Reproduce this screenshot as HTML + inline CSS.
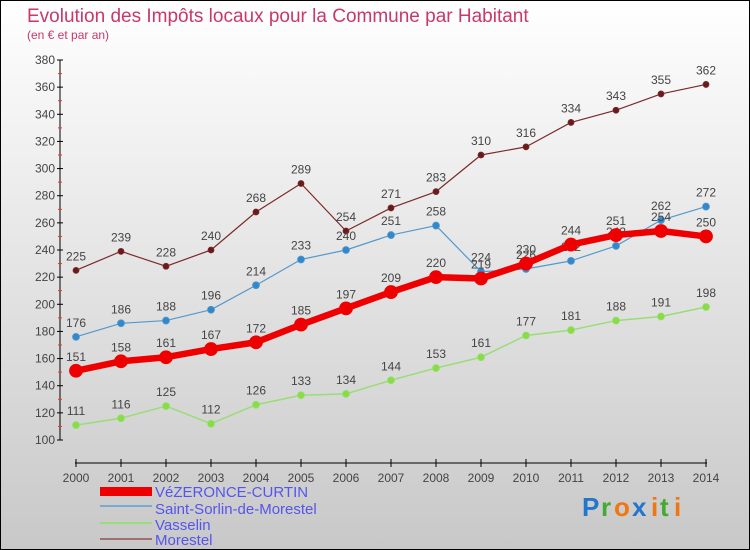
<!DOCTYPE html>
<html><head><meta charset="utf-8"><style>
body{margin:0}
#c{width:750px;height:550px;position:relative;overflow:hidden;font-family:"Liberation Sans",sans-serif}
svg text{font-family:"Liberation Sans",sans-serif}
</style></head><body>
<div id="c">
<svg id="s" width="750" height="550" xmlns="http://www.w3.org/2000/svg">
<defs><linearGradient id="bg" x1="0" y1="0" x2="0" y2="1"><stop offset="0" stop-color="#ffffff"/><stop offset="1" stop-color="#c8c8c8"/></linearGradient></defs>
<rect x="0.5" y="0.5" width="749" height="549" fill="url(#bg)" stroke="#000"/>
<text x="27" y="22" font-size="19" fill="#c8386a">Evolution des Impôts locaux pour la Commune par Habitant</text>
<text x="27" y="39" font-size="12" fill="#c8386a">(en € et par an)</text>
<g id="axes"></g><g id="series"></g>
<g>
<rect x="100" y="487" width="52" height="9" fill="#ee0000"/>
<text x="155" y="497" font-size="15" fill="#5555ee">VéZERONCE-CURTIN</text>
<rect x="100" y="505" width="52" height="2" fill="#7aaad0"/>
<text x="155" y="514" font-size="15" fill="#5555ee">Saint-Sorlin-de-Morestel</text>
<rect x="100" y="522" width="52" height="2" fill="#99dd77"/>
<text x="155" y="530" font-size="15" fill="#5555ee">Vasselin</text>
<rect x="100" y="538" width="52" height="2" fill="#a07070"/>
<text x="155" y="545" font-size="15" fill="#5555ee">Morestel</text>
</g>
<g font-size="26" font-weight="bold">
<text x="582" y="516" fill="#2277cc">P</text><text x="601" y="516" fill="#44aa33">r</text><text x="614" y="516" fill="#ee7711">o</text><text x="632" y="516" fill="#2277cc">x</text><text x="651" y="516" fill="#ee7711">i</text><text x="660" y="516" fill="#44aa33">t</text><text x="674" y="516" fill="#ee7711">i</text>
</g>
</svg></div>
<script>
const years=[2000,2001,2002,2003,2004,2005,2006,2007,2008,2009,2010,2011,2012,2013,2014];
const vezeronce=[151,158,161,167,172,185,197,209,220,219,230,244,251,254,250];
const saintSorlin=[176,186,188,196,214,233,240,251,258,224,226,232,243,262,272];
const vasselin=[111,116,125,112,126,133,134,144,153,161,177,181,188,191,198];
const morestel=[225,239,228,240,268,289,254,271,283,310,316,334,343,355,362];
const yTicks=[100,120,140,160,180,200,220,240,260,280,300,320,340,360,380];
const NS="http://www.w3.org/2000/svg";
const X=i=>76+i*45, Y=v=>440-(v-100)*380/280;
function mk(t,a,p){const e=document.createElementNS(NS,t);for(const k in a)e.setAttribute(k,a[k]);p.appendChild(e);return e;}
const ax=document.getElementById('axes');
let l=mk('line',{x1:60,y1:60,x2:60,y2:440,stroke:'#000'},ax);


yTicks.forEach(v=>{mk('line',{x1:57,y1:Y(v),x2:63,y2:Y(v),stroke:'#000'},ax);
 if(v<380)mk('line',{x1:58,y1:Y(v+10),x2:62,y2:Y(v+10),stroke:'#e33'},ax);
 const t=mk('text',{x:55,y:Y(v)+4,'font-size':12,'text-anchor':'end',fill:'#444'},ax);t.textContent=v;
 
 });
l=mk('line',{x1:75,y1:463,x2:707,y2:463,stroke:'#000'},ax);


years.forEach((y,i)=>{mk('line',{x1:X(i),y1:459,x2:X(i),y2:467,stroke:'#000'},ax);
 const t=mk('text',{x:X(i),y:482,'font-size':12,'text-anchor':'middle',fill:'#444'},ax);t.textContent=y;
 
 });
const sg=document.getElementById('series');
function series(name,data,color,dot,w,r){
 const g=mk('g',{},sg);
 
 
 mk('polyline',{points:data.map((v,i)=>X(i)+','+Y(v)).join(' '),fill:'none',stroke:color,'stroke-width':w,'stroke-linejoin':'round'},g);
 data.forEach((v,i)=>{const c=mk('circle',{cx:X(i),cy:Y(v),r:r,fill:dot,stroke:color,'stroke-width':0.8},g);
  
  
  const t=mk('text',{x:X(i),y:Y(v)-10,'font-size':12,'text-anchor':'middle',fill:'#444'},g);t.textContent=v;
  
  });
}
series('morestel',morestel,'#7a2a2a','#6a1a1a',1.2,3);
series('vasselin',vasselin,'#99dd77','#88dd44',1.5,3.5);
series('saint-sorlin',saintSorlin,'#5599cc','#3388cc',1.2,3.5);
series('vezeronce',vezeronce,'#ee0000','#ee0000',6.5,6.5);
</script>
</body></html>
